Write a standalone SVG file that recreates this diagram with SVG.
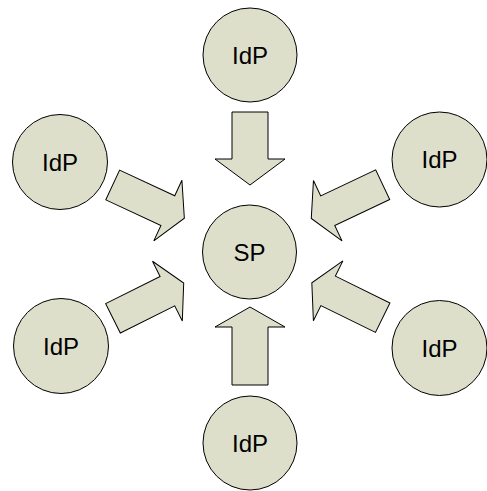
<svg xmlns="http://www.w3.org/2000/svg" width="487" height="491" viewBox="0 0 487 491">
<style>
.node circle{fill:#dddfca;stroke:#000;stroke-width:1}
.node text{font-family:"Liberation Sans",Arial,sans-serif;font-size:24px;fill:#000;text-anchor:middle}
.arrow{fill:#dddfca;stroke:#000;stroke-width:1;stroke-linejoin:miter}
</style>
<defs>
<path id="diag" class="arrow" d="M0,-16.4 L60.8,-16.4 L60.8,-33.4 L79,0 L60.8,33.4 L60.8,16.4 L0,16.4 Z"/>
</defs>
<rect width="487" height="491" fill="#fff"/>
<g id="connectors">
<path class="arrow" d="M232,112 L268,112 L268,159 L285,159 L250,185 L215,159 L232,159 Z"/>
<path class="arrow" d="M232,385 L268,385 L268,327 L285,327 L250,307 L215,327 L232,327 Z"/>
<use href="#diag" transform="translate(112.7,185) rotate(24.9)"/>
<use href="#diag" transform="translate(113,318.3) rotate(-26.5)"/>
<use href="#diag" transform="translate(382.7,184.7) rotate(154.7)"/>
<use href="#diag" transform="translate(382.7,317.7) rotate(-153.8)"/>
</g>
<g id="idp-top" class="node"><circle cx="250" cy="55" r="47"/><text x="250" y="63.5">IdP</text></g>
<g id="idp-left-top" class="node"><circle cx="60" cy="162" r="47.5"/><text x="60" y="170.5">IdP</text></g>
<g id="idp-right-top" class="node"><circle cx="439.5" cy="159.5" r="47.5"/><text x="439.5" y="168">IdP</text></g>
<g id="sp" class="node"><circle cx="249.5" cy="252" r="47"/><text x="249.5" y="260.5">SP</text></g>
<g id="idp-left-bottom" class="node"><circle cx="61" cy="346" r="47.5"/><text x="61" y="354.5">IdP</text></g>
<g id="idp-right-bottom" class="node"><circle cx="439.5" cy="348" r="47.5"/><text x="439.5" y="356.5">IdP</text></g>
<g id="idp-bottom" class="node"><circle cx="250" cy="443" r="47"/><text x="250" y="451.5">IdP</text></g>
</svg>
